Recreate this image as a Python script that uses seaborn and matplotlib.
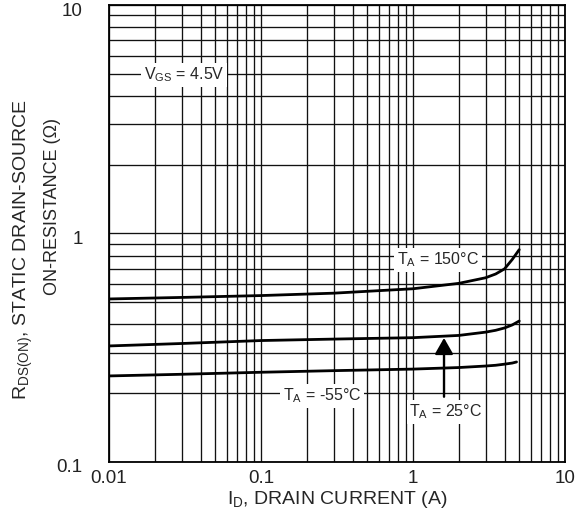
import matplotlib
matplotlib.use("Agg")
import matplotlib.pyplot as plt
import matplotlib.ticker as mticker
import matplotlib.transforms as mtransforms
import pandas as pd
import seaborn as sns
import numpy as np

sns.set_theme(style="white")
plt.rcParams['font.family'] = ['Liberation Sans', 'DejaVu Sans']
plt.rcParams['mathtext.fontset'] = 'custom'
plt.rcParams['mathtext.rm'] = 'Liberation Sans'
plt.rcParams['mathtext.it'] = 'Liberation Sans'

# drain current (A) and on-resistance (ohm)
current = [0.01, 0.03, 0.1, 0.3, 1.0, 2.0, 3.0, 3.5, 4.0, 4.5, 5.0]
r_150 = [0.517, 0.525, 0.535, 0.548, 0.573, 0.605, 0.64, 0.665, 0.70, 0.77, 0.85]
r_25 = [0.322, 0.330, 0.340, 0.345, 0.350, 0.358, 0.370, 0.377, 0.386, 0.398, 0.414]
current_m55 = [0.01, 0.03, 0.1, 0.3, 1.0, 2.0, 3.0, 3.5, 4.0, 4.5, 4.8]
r_m55 = [0.238, 0.242, 0.247, 0.251, 0.255, 0.259, 0.263, 0.265, 0.268, 0.271, 0.274]

x_ticks = [0.01, 0.1, 1, 10]
x_labels = ["0.01", "0.1", "1", "10"]
y_ticks = [0.1, 1, 10]
y_labels = ["0.1", "1", "10"]

df = pd.concat([
    pd.DataFrame({'id': current, 'r': r_150, 'temp': '150'}),
    pd.DataFrame({'id': current, 'r': r_25, 'temp': '25'}),
    pd.DataFrame({'id': current_m55, 'r': r_m55, 'temp': '-55'}),
])

fig = plt.figure(figsize=(5.85, 5.12), dpi=100)
ax = fig.add_axes([0.1863, 0.0977, 0.7795, 0.8925])

sns.lineplot(data=df, x='id', y='r', hue='temp', palette=['black'] * 3,
             linewidth=2.0, legend=False, ax=ax, zorder=3)

ax.set_xscale('log')
ax.set_yscale('log')
ax.set_xlim(0.01, 10)
ax.set_ylim(0.1, 10)

ax.xaxis.set_minor_locator(mticker.LogLocator(base=10, subs=np.arange(2, 10)))
ax.yaxis.set_minor_locator(mticker.LogLocator(base=10, subs=np.arange(2, 10)))
ax.xaxis.set_minor_formatter(mticker.NullFormatter())
ax.yaxis.set_minor_formatter(mticker.NullFormatter())
ax.set_xticks(x_ticks, x_labels)
ax.set_yticks(y_ticks, y_labels)
ax.grid(True, which='both', color='#111111', linewidth=0.95)
ax.tick_params(which='both', length=0, labelsize=13.5, colors='#222222')
ax.tick_params(axis='y', pad=19)
ax.tick_params(axis='x', pad=6)
for s in ax.spines.values():
    s.set_color('black')
    s.set_linewidth(1.3)

# the y tick labels sit a little below their gridlines in the original
shift = mtransforms.ScaledTranslation(0, -0.04, fig.dpi_scale_trans)
for lab in ax.get_yticklabels():
    lab.set_transform(lab.get_transform() + shift)

ax.set_xlabel(r'I$_\mathrm{D}$, DRAIN CURRENT (A)', fontsize=14, labelpad=1)
ax.set_ylabel('')
fig.text(0.040, 0.512, r'R$_\mathrm{DS(ON)}$, STATIC DRAIN-SOURCE', rotation=90,
         ha='center', va='center', fontsize=14)
fig.text(0.090, 0.597, 'ON-RESISTANCE (\u03a9)', rotation=90,
         ha='center', va='center', fontsize=13)

box = dict(facecolor='white', edgecolor='none', pad=2)
ax.text(0.0311, 4.94, r'V$_\mathrm{GS}$ = 4.5V', ha='center', va='center',
        fontsize=11.5, bbox=box, zorder=4)
ax.text(1.46, 0.766, r'T$_\mathrm{A}$ = 150°C', ha='center', va='center',
        fontsize=11.5, bbox=box, zorder=4)
ax.text(0.252, 0.195, r'T$_\mathrm{A}$ = -55°C', ha='center', va='center',
        fontsize=11.5, bbox=box, zorder=4)
ax.text(1.65, 0.166, r'T$_\mathrm{A}$ = 25°C', ha='center', va='center',
        fontsize=11.5, bbox=box, zorder=4)

ax.annotate('', xy=(1.6, 0.349), xytext=(1.6, 0.193),
            arrowprops=dict(arrowstyle='-|>,head_length=0.7,head_width=0.4',
                            color='black', lw=1.7, mutation_scale=14,
                            shrinkA=0, shrinkB=0), zorder=5)

fig.savefig('out.png', dpi=100)
